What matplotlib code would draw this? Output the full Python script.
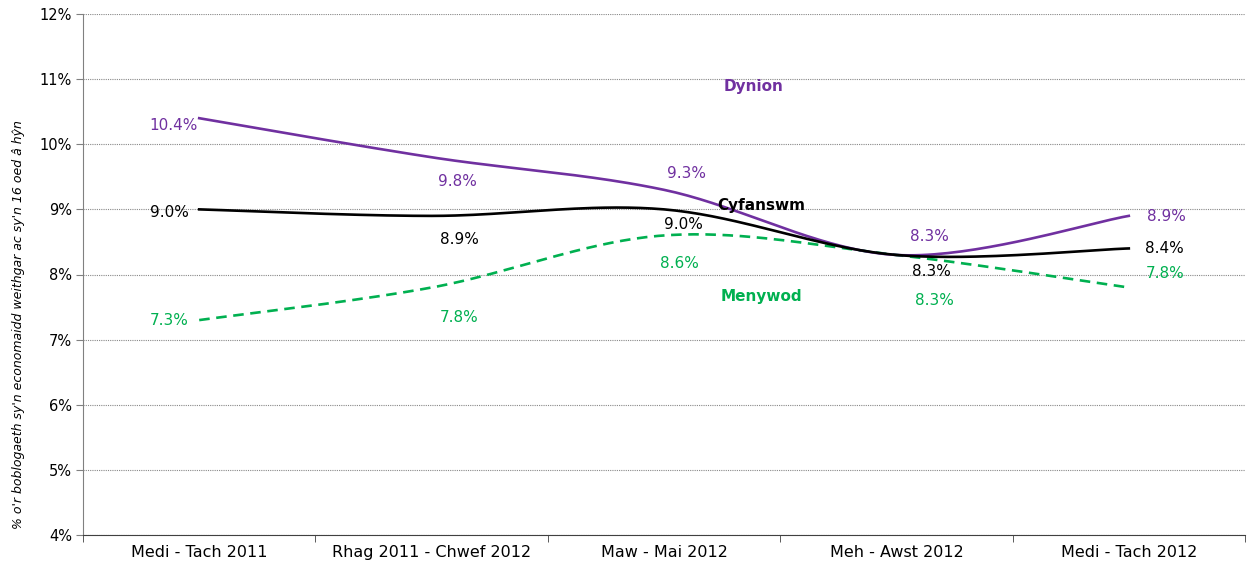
import numpy as np
import matplotlib
matplotlib.use('Agg')
import matplotlib.pyplot as plt
from matplotlib.ticker import FuncFormatter, FixedLocator

categories = ['Medi - Tach 2011', 'Rhag 2011 - Chwef 2012', 'Maw - Mai 2012',
              'Meh - Awst 2012', 'Medi - Tach 2012']
dynion = [10.4, 9.8, 9.3, 8.3, 8.9]
cyfanswm = [9.0, 8.9, 9.0, 8.3, 8.4]
menywod = [7.3, 7.8, 8.6, 8.3, 7.8]

PURPLE = '#7030A0'
GREEN = '#00B050'
BLACK = '#000000'


def smooth(y, n=40):
    # Excel-style smoothed line (Catmull-Rom through the points)
    x = np.arange(len(y), dtype=float)
    y = np.asarray(y, dtype=float)
    px = np.concatenate([[x[0]], x, [x[-1]]])
    py = np.concatenate([[y[0]], y, [y[-1]]])
    xs, ys = [], []
    t = np.linspace(0, 1, n)
    for i in range(1, len(px) - 2):
        p0 = np.array([px[i], py[i]])
        p3 = np.array([px[i + 1], py[i + 1]])
        p1 = p0 + (np.array([px[i + 1], py[i + 1]]) - np.array([px[i - 1], py[i - 1]])) / 6
        p2 = p3 - (np.array([px[i + 2], py[i + 2]]) - np.array([px[i], py[i]])) / 6
        b = ((1 - t) ** 3)[:, None] * p0 + (3 * (1 - t) ** 2 * t)[:, None] * p1 \
            + (3 * (1 - t) * t ** 2)[:, None] * p2 + (t ** 3)[:, None] * p3
        xs.extend(b[:, 0])
        ys.extend(b[:, 1])
    return np.array(xs), np.array(ys)


plt.rcParams['font.family'] = 'DejaVu Sans'
fig = plt.figure(figsize=(12.47, 5.62), dpi=100)
ax = fig.add_axes([83 / 1247, 1 - 535 / 562, (1245 - 83) / 1247, (535 - 14) / 562])

ax.set_xlim(-0.5, 4.5)
ax.set_ylim(4, 12)

for y in range(4, 13):
    ax.axhline(y, color='#888888', lw=0.8, ls=(0, (1, 1)), zorder=0)

sx, sy = smooth(dynion)
ax.plot(sx, sy, color=PURPLE, lw=1.9, zorder=3)
sx, sy = smooth(cyfanswm)
ax.plot(sx, sy, color=BLACK, lw=1.9, zorder=3)
sx, sy = smooth(menywod)
ax.plot(sx, sy, color=GREEN, lw=1.9, ls=(0, (4, 2.5)), zorder=2)

# data labels, offsets in pixels
off_d = [(-26, -7), (26, -24), (22, 16), (33, 18), (38, -1)]
off_c = [(-30, -3), (28, -24), (19, -15), (35, -17), (36, 0)]
off_m = [(-30, 0), (28, -30), (15, -28), (38, -46), (36, 14)]
for vals, offs, col in [(dynion, off_d, PURPLE), (cyfanswm, off_c, BLACK),
                        (menywod, off_m, GREEN)]:
    for i, (v, o) in enumerate(zip(vals, offs)):
        ax.annotate('%.1f%%' % v, (i, v), xytext=o, textcoords='offset pixels',
                    ha='center', va='center', color=col, fontsize=11)

ax.text(0.5775, 0.860, 'Dynion', transform=ax.transAxes, color=PURPLE,
        fontsize=11, fontweight='bold', ha='center', va='center')
ax.text(0.584, 0.633, 'Cyfanswm', transform=ax.transAxes, color=BLACK,
        fontsize=11, fontweight='bold', ha='center', va='center')
ax.text(0.584, 0.457, 'Menywod', transform=ax.transAxes, color=GREEN,
        fontsize=11, fontweight='bold', ha='center', va='center')

ax.set_xticks(range(len(categories)))
ax.set_xticklabels(categories, fontsize=11.5)
ax.xaxis.set_minor_locator(FixedLocator(np.arange(-0.5, 5, 1)))
ax.tick_params(axis='x', which='major', length=0, pad=7)
ax.tick_params(axis='x', which='minor', length=5, direction='out', color='#404040')
ax.set_yticks(range(4, 13))
ax.yaxis.set_major_formatter(FuncFormatter(lambda v, p: '%d%%' % v))
ax.tick_params(axis='y', length=5, direction='out', color='#808080', labelsize=10.5, pad=3)

ax.spines['top'].set_visible(False)
ax.spines['right'].set_visible(False)
ax.spines['left'].set_color('#808080')
ax.spines['bottom'].set_color('#404040')

ax.set_ylabel("% o'r boblogaeth sy'n economaidd weithgar ac sy'n 16 oed â hŷn",
              fontstyle='italic', fontsize=9)
ax.yaxis.set_label_coords(-0.050, 0.403)

fig.savefig('out.png', dpi=100)
